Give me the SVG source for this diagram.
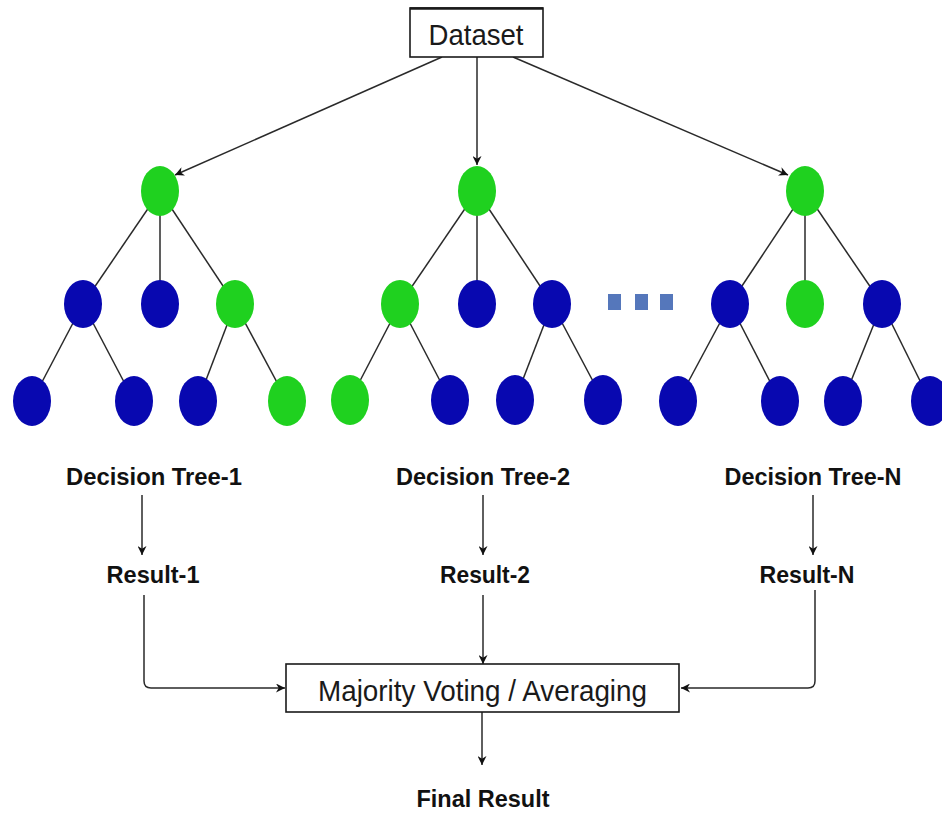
<svg xmlns="http://www.w3.org/2000/svg" width="942" height="813" viewBox="0 0 942 813">
  <style>
    .box { fill: #ffffff; stroke: #1a1a1a; stroke-width: 1.6; }
    .boxtxt { font-family: "Liberation Sans", Arial, sans-serif; font-size: 30px; fill: #1a1a1a; text-anchor: middle; }
    .lbl { font-family: "Liberation Sans", Arial, sans-serif; font-weight: bold; font-size: 24.5px; fill: #111111; text-anchor: middle; }
    .edge { stroke: #2a2a2a; stroke-width: 1.5; fill: none; }
    .flow { stroke: #2a2a2a; stroke-width: 1.5; fill: none; marker-end: url(#arrow); }
    .g { fill: #1fd11f; }
    .b { fill: #0808b0; }
    .dot { fill: #5577bb; }
  </style>
  <defs>
    <marker id="arrow" viewBox="0 0 10 10" refX="10" refY="5" markerWidth="10" markerHeight="9" markerUnits="userSpaceOnUse" orient="auto">
      <path d="M0,0 L10,5 L0,10 L3,5 Z" fill="#111111"/>
    </marker>
  </defs>
  <rect width="942" height="813" fill="#ffffff"/>

  <!-- connectors -->
  <g id="connectors">
    <!-- dataset to tree roots -->
    <line class="flow" x1="442" y1="57" x2="175" y2="175"/>
    <line class="flow" x1="477" y1="57" x2="477" y2="165"/>
    <line class="flow" x1="513" y1="57" x2="788" y2="175"/>

    <!-- tree 1 edges -->
    <line class="edge" x1="160" y1="191" x2="83" y2="304"/>
    <line class="edge" x1="160" y1="191" x2="160" y2="304"/>
    <line class="edge" x1="160" y1="191" x2="235" y2="304"/>
    <line class="edge" x1="83" y1="304" x2="32" y2="401"/>
    <line class="edge" x1="83" y1="304" x2="134" y2="401"/>
    <line class="edge" x1="235" y1="304" x2="198" y2="401"/>
    <line class="edge" x1="235" y1="304" x2="287" y2="401"/>

    <!-- tree 2 edges -->
    <line class="edge" x1="477" y1="191" x2="400" y2="304"/>
    <line class="edge" x1="477" y1="191" x2="477" y2="304"/>
    <line class="edge" x1="477" y1="191" x2="552" y2="304"/>
    <line class="edge" x1="400" y1="304" x2="350" y2="400"/>
    <line class="edge" x1="400" y1="304" x2="450" y2="400"/>
    <line class="edge" x1="552" y1="304" x2="515" y2="400"/>
    <line class="edge" x1="552" y1="304" x2="603" y2="400"/>

    <!-- tree N edges -->
    <line class="edge" x1="805" y1="191" x2="730" y2="304"/>
    <line class="edge" x1="805" y1="191" x2="805" y2="304"/>
    <line class="edge" x1="805" y1="191" x2="882" y2="304"/>
    <line class="edge" x1="730" y1="304" x2="678" y2="401"/>
    <line class="edge" x1="730" y1="304" x2="780" y2="401"/>
    <line class="edge" x1="882" y1="304" x2="843" y2="401"/>
    <line class="edge" x1="882" y1="304" x2="930" y2="401"/>

    <!-- tree labels to results -->
    <line class="flow" x1="142" y1="495" x2="142" y2="555"/>
    <line class="flow" x1="483" y1="495" x2="483" y2="555"/>
    <line class="flow" x1="813" y1="495" x2="813" y2="555"/>

    <!-- results to aggregation -->
    <path class="flow" d="M144,595 L144,681 Q144,688 151,688 L285,688"/>
    <line class="flow" x1="483" y1="595" x2="483" y2="664"/>
    <path class="flow" d="M815,590 L815,681 Q815,688 808,688 L681,688"/>

    <!-- aggregation to final result -->
    <line class="flow" x1="482" y1="712" x2="482" y2="765"/>
  </g>

  <!-- input data -->
  <g id="dataset">
    <rect class="box" x="410" y="8" width="133" height="49"/>
    <line x1="410" y1="8.5" x2="543" y2="8.5" stroke="#1a1a1a" stroke-width="2.6"/>
    <text class="boxtxt" x="476" y="45" textLength="95" lengthAdjust="spacingAndGlyphs">Dataset</text>
  </g>

  <!-- decision tree 1 -->
  <g id="tree-1">
    <ellipse class="g" cx="160" cy="191" rx="19" ry="25"/>
    <ellipse class="b" cx="83" cy="304" rx="19" ry="24"/>
    <ellipse class="b" cx="160" cy="304" rx="19" ry="24"/>
    <ellipse class="g" cx="235" cy="304" rx="19" ry="24"/>
    <ellipse class="b" cx="32" cy="401" rx="19" ry="25"/>
    <ellipse class="b" cx="134" cy="401" rx="19" ry="25"/>
    <ellipse class="b" cx="198" cy="401" rx="19" ry="25"/>
    <ellipse class="g" cx="287" cy="401" rx="19" ry="25"/>
  </g>

  <!-- decision tree 2 -->
  <g id="tree-2">
    <ellipse class="g" cx="477" cy="191" rx="19" ry="25"/>
    <ellipse class="g" cx="400" cy="304" rx="19" ry="24"/>
    <ellipse class="b" cx="477" cy="304" rx="19" ry="24"/>
    <ellipse class="b" cx="552" cy="304" rx="19" ry="24"/>
    <ellipse class="g" cx="350" cy="400" rx="19" ry="25"/>
    <ellipse class="b" cx="450" cy="400" rx="19" ry="25"/>
    <ellipse class="b" cx="515" cy="400" rx="19" ry="25"/>
    <ellipse class="b" cx="603" cy="400" rx="19" ry="25"/>
  </g>

  <!-- ellipsis between trees -->
  <g id="more-trees">
    <rect class="dot" x="608" y="294" width="13" height="16"/>
    <rect class="dot" x="635" y="294" width="13" height="16"/>
    <rect class="dot" x="660" y="294" width="13" height="16"/>
  </g>

  <!-- decision tree N -->
  <g id="tree-n">
    <ellipse class="g" cx="805" cy="191" rx="19" ry="25"/>
    <ellipse class="b" cx="730" cy="304" rx="19" ry="24"/>
    <ellipse class="g" cx="805" cy="304" rx="19" ry="24"/>
    <ellipse class="b" cx="882" cy="304" rx="19" ry="24"/>
    <ellipse class="b" cx="678" cy="401" rx="19" ry="25"/>
    <ellipse class="b" cx="780" cy="401" rx="19" ry="25"/>
    <ellipse class="b" cx="843" cy="401" rx="19" ry="25"/>
    <ellipse class="b" cx="930" cy="401" rx="19" ry="25"/>
  </g>

  <!-- tree captions -->
  <g id="label-tree-1"><text class="lbl" x="154" y="485" textLength="176" lengthAdjust="spacingAndGlyphs">Decision Tree-1</text></g>
  <g id="label-tree-2"><text class="lbl" x="483" y="485" textLength="174" lengthAdjust="spacingAndGlyphs">Decision Tree-2</text></g>
  <g id="label-tree-n"><text class="lbl" x="813" y="485" textLength="177" lengthAdjust="spacingAndGlyphs">Decision Tree-N</text></g>

  <!-- per-tree results -->
  <g id="result-1"><text class="lbl" x="153" y="583" textLength="93" lengthAdjust="spacingAndGlyphs">Result-1</text></g>
  <g id="result-2"><text class="lbl" x="485" y="583" textLength="90" lengthAdjust="spacingAndGlyphs">Result-2</text></g>
  <g id="result-n"><text class="lbl" x="807" y="583" textLength="95" lengthAdjust="spacingAndGlyphs">Result-N</text></g>

  <!-- aggregation step -->
  <g id="aggregate">
    <rect class="box" x="286" y="664" width="393" height="48"/>
    <text class="boxtxt" x="482.5" y="701" textLength="329" lengthAdjust="spacingAndGlyphs">Majority Voting / Averaging</text>
  </g>

  <!-- final output -->
  <g id="final-result"><text class="lbl" x="483" y="807" textLength="133" lengthAdjust="spacingAndGlyphs">Final Result</text></g>
</svg>
